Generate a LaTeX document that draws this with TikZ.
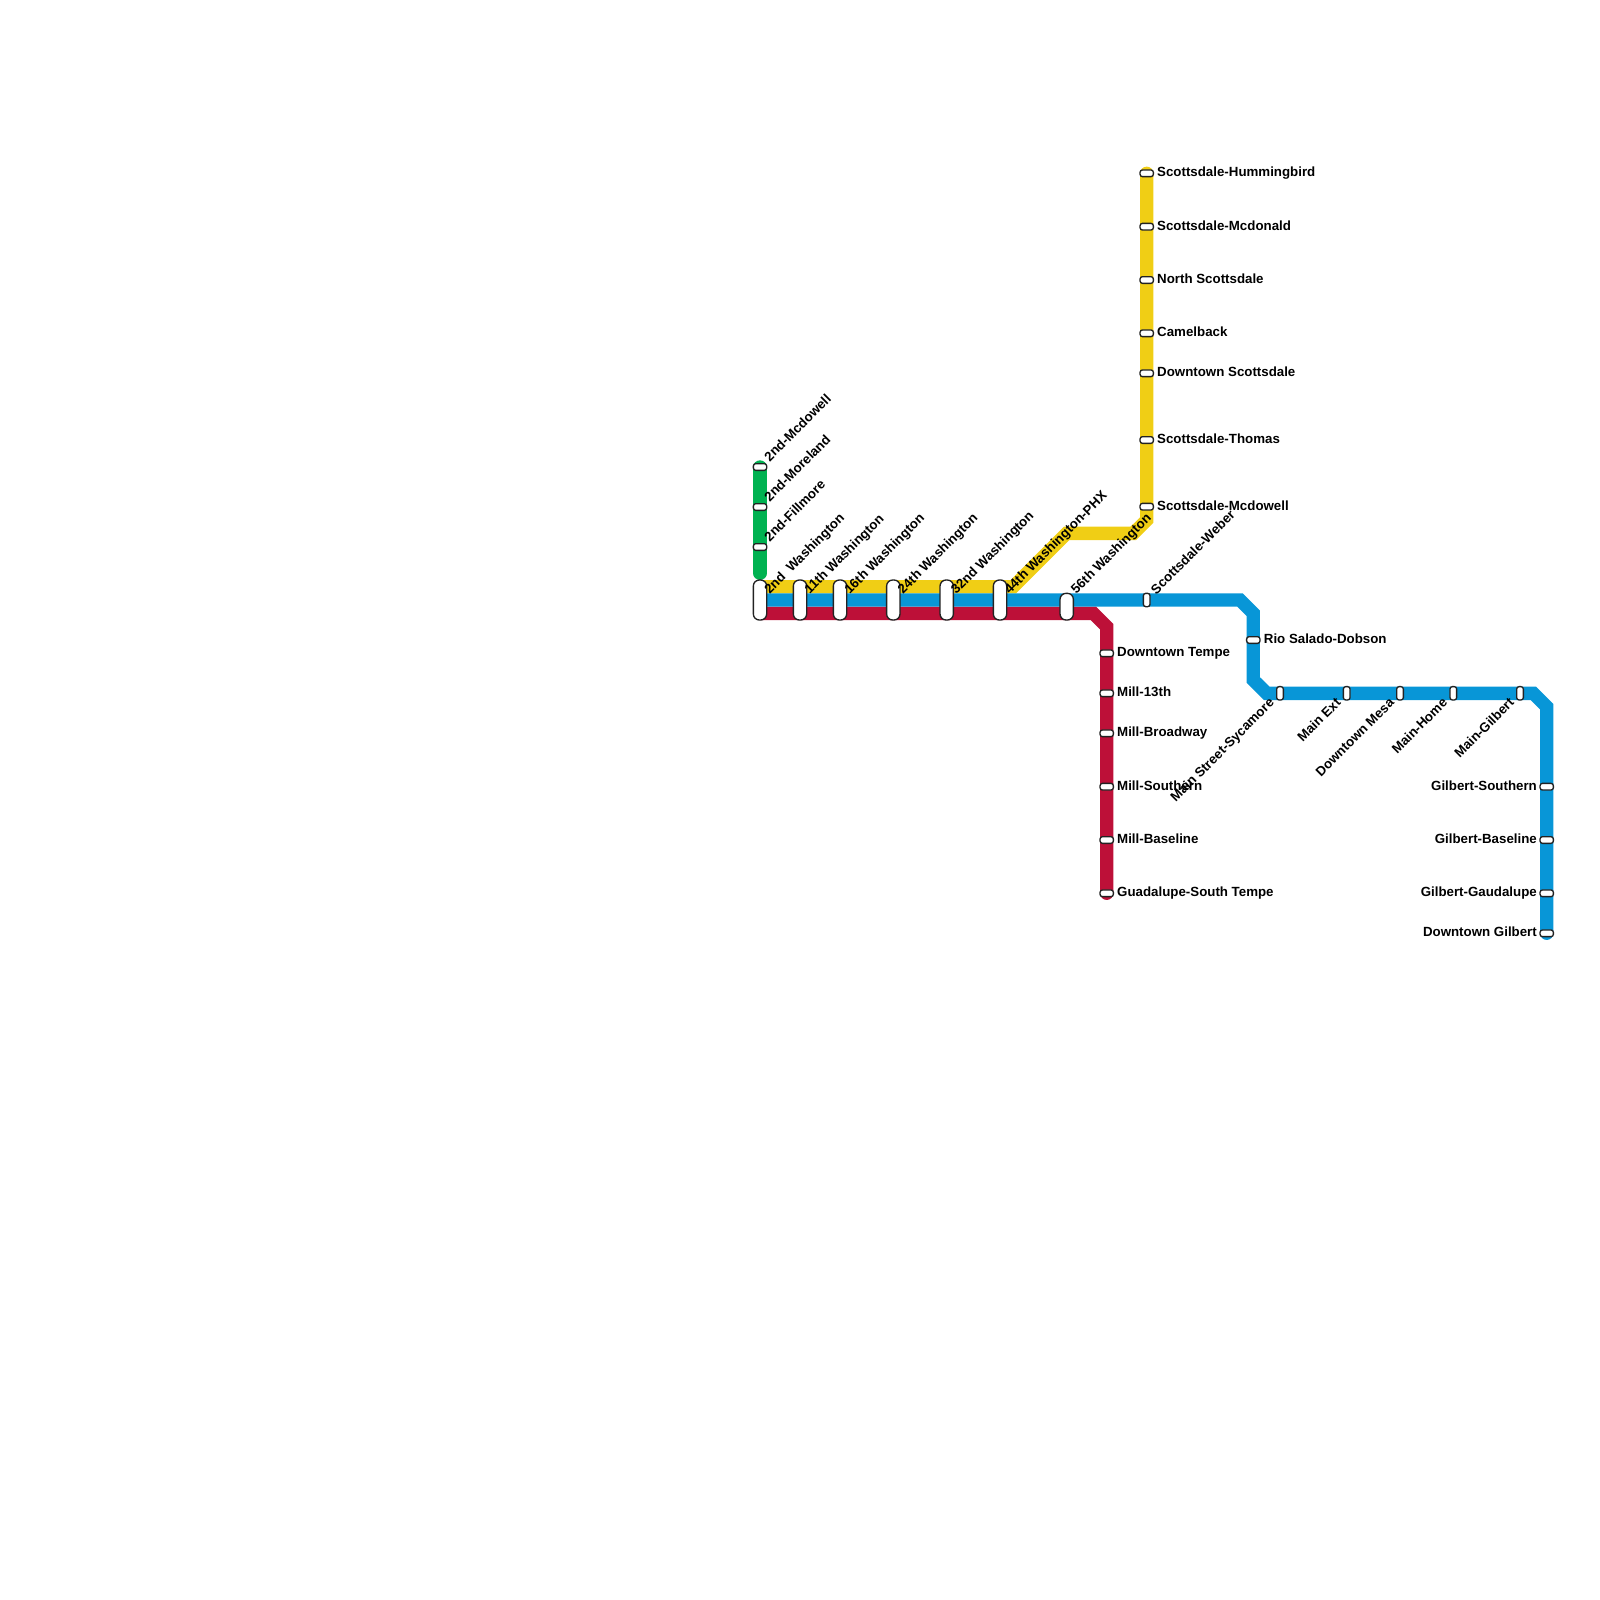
\documentclass[tikz,border=0pt]{standalone}
\usepackage{fontspec}
\setmainfont{Liberation Sans}
\usetikzlibrary{backgrounds}
\definecolor{lgreen}{HTML}{00B251}
\definecolor{lyellow}{HTML}{F0CE15}
\definecolor{lblue}{HTML}{0896D7}
\definecolor{lred}{HTML}{BD1038}
\definecolor{stroke}{HTML}{222222}
\tikzset{
  x=1pt,y=-1pt,
  metroline/.style={line width=13.33pt,line join=miter,line cap=butt},
  roundend/.style={metroline,line cap=round},
  bigpill/.style={draw=stroke,fill=white,line width=1.33pt,rectangle,rounded corners=6pt,minimum width=13.33pt,minimum height=40pt,inner sep=0pt},
  midpill/.style={bigpill,minimum height=26.67pt},
  hstop/.style={draw=stroke,fill=white,line width=1.33pt,rectangle,rounded corners=2.4pt,minimum width=13.33pt,minimum height=6.67pt,inner sep=0pt},
  vstop/.style={draw=stroke,fill=white,line width=1.33pt,rectangle,rounded corners=2.4pt,minimum width=6.67pt,minimum height=13.33pt,inner sep=0pt},
  lab/.style={font=\fontsize{13.3}{13.3}\selectfont\bfseries,text=black,inner sep=0pt},
  labR/.style={lab,anchor=base west,yshift=0.4pt},
  labL/.style={lab,anchor=base east,yshift=0.4pt},
  labUp/.style={lab,anchor=base west,rotate=45,xshift=-0.5pt,yshift=-0.5pt},
  labDn/.style={lab,anchor=base east,rotate=45,xshift=-1pt,yshift=1pt},
}
\begin{document}
\begin{tikzpicture}
\useasboundingbox (0,0) rectangle (1600,1600);
% stations
\node[hstop] (g1) at (760,467) {};
\node[hstop] (g2) at (760,507) {};
\node[hstop] (g3) at (760,547) {};
\node[bigpill] (w1) at (760,600) {};
\node[bigpill] (w2) at (800,600) {};
\node[bigpill] (w3) at (840,600) {};
\node[bigpill] (w4) at (893.3,600) {};
\node[bigpill] (w5) at (946.7,600) {};
\node[bigpill] (w6) at (1000,600) {};
\node[midpill] (w7) at (1066.7,606.67) {};
\node[hstop] (y1) at (1146.7,173.3) {};
\node[hstop] (y2) at (1146.7,226.7) {};
\node[hstop] (y3) at (1146.7,280) {};
\node[hstop] (y4) at (1146.7,333.3) {};
\node[hstop] (y5) at (1146.7,373.3) {};
\node[hstop] (y6) at (1146.7,440) {};
\node[hstop] (y7) at (1146.7,506.7) {};
\node[hstop] (r1) at (1106.7,653.3) {};
\node[hstop] (r2) at (1106.7,693.3) {};
\node[hstop] (r3) at (1106.7,733.3) {};
\node[hstop] (r4) at (1106.7,786.7) {};
\node[hstop] (r5) at (1106.7,840) {};
\node[hstop] (r6) at (1106.7,893.3) {};
\node[vstop] (b1) at (1146.7,600) {};
\node[hstop] (b2) at (1253.3,640) {};
\node[vstop] (b3) at (1280,693.3) {};
\node[vstop] (b4) at (1346.7,693.3) {};
\node[vstop] (b5) at (1400,693.3) {};
\node[vstop] (b6) at (1453.3,693.3) {};
\node[vstop] (b7) at (1520,693.3) {};
\node[hstop] (b8) at (1546.7,786.7) {};
\node[hstop] (b9) at (1546.7,840) {};
\node[hstop] (b10) at (1546.7,893.3) {};
\node[hstop] (b11) at (1546.7,933.3) {};
% bends and line ends
\coordinate (gend) at (760,573.3);
\coordinate (ys) at (760,586.67);
\coordinate (yb1) at (1013.3,586.67);
\coordinate (yb2) at (1066.7,533.33);
\coordinate (yb3) at (1133.3,533.33);
\coordinate (yb4) at (1146.7,520);
\coordinate (bs) at (760,600);
\coordinate (bb1) at (1240,600);
\coordinate (bb2) at (1253.3,613.33);
\coordinate (bb3) at (1253.3,680);
\coordinate (bb4) at (1266.7,693.33);
\coordinate (bb5) at (1533.3,693.33);
\coordinate (bb6) at (1546.7,706.67);
\coordinate (rs) at (760,613.33);
\coordinate (rb1) at (1093.3,613.33);
\coordinate (rb2) at (1106.7,626.67);
\begin{pgfonlayer}{background}
\draw[roundend,lgreen] (g1.center) -- (gend);
\draw[metroline,lyellow] (ys) -- (yb1) -- (yb2) -- (yb3) -- (yb4) -- (y1.center);
\fill[lyellow] (y1.center) circle[radius=6.67];
\draw[metroline,lred] (rs) -- (rb1) -- (rb2) -- (r6.center);
\fill[lred] (r6.center) circle[radius=6.67];
\draw[metroline,lblue] (bs) -- (bb1) -- (bb2) -- (bb3) -- (bb4) -- (bb5) -- (bb6) -- (b11.center);
\fill[lblue] (b11.center) circle[radius=6.67];
\end{pgfonlayer}
% labels
\node[labUp] (lg1) at (769.6,461.6) {2nd-Mcdowell};
\node[labUp] (lg2) at (769.6,501.6) {2nd-Moreland};
\node[labUp] (lg3) at (769.6,541.6) {2nd-Fillmore};
\node[labUp] (lw1) at (769.6,594) {2nd\ \ Washington};
\node[labUp] (lw2) at (809.6,594) {11th Washington};
\node[labUp] (lw3) at (849.6,594) {16th Washington};
\node[labUp] (lw4) at (902.9,594) {24th Washington};
\node[labUp] (lw5) at (956.3,594) {32nd Washington};
\node[labUp] (lw6) at (1009.6,594) {44th Washington-PHX};
\node[labUp] (lw7) at (1076.3,594) {56th Washington};
\node[labUp] (lb1) at (1156.3,594.6) {Scottsdale-Weber};
\node[labR] (ly1) at (1157,177) {Scottsdale-Hummingbird};
\node[labR] (ly2) at (1157,230.4) {Scottsdale-Mcdonald};
\node[labR] (ly3) at (1157,283.7) {North Scottsdale};
\node[labR] (ly4) at (1157,337) {Camelback};
\node[labR] (ly5) at (1157,377) {Downtown Scottsdale};
\node[labR] (ly6) at (1157,443.7) {Scottsdale-Thomas};
\node[labR] (ly7) at (1157,510.4) {Scottsdale-Mcdowell};
\node[labR] (lr1) at (1117,657) {Downtown Tempe};
\node[labR] (lr2) at (1117,697) {Mill-13th};
\node[labR] (lr3) at (1117,737) {Mill-Broadway};
\node[labR] (lr4) at (1117,790.4) {Mill-Southern};
\node[labR] (lr5) at (1117,843.7) {Mill-Baseline};
\node[labR] (lr6) at (1117,897) {Guadalupe-South Tempe};
\node[labR] (lb2) at (1263.7,643.7) {Rio Salado-Dobson};
\node[labDn] (lb3) at (1276.3,703.6) {Main Street-Sycamore};
\node[labDn] (lb4) at (1343,703.6) {Main Ext};
\node[labDn] (lb5) at (1396.3,703.6) {Downtown Mesa};
\node[labDn] (lb6) at (1449.6,703.6) {Main-Home};
\node[labDn] (lb7) at (1516.3,703.6) {Main-Gilbert};
\node[labL] (lb8) at (1537,790.4) {Gilbert-Southern};
\node[labL] (lb9) at (1537,843.7) {Gilbert-Baseline};
\node[labL] (lb10) at (1537,897) {Gilbert-Gaudalupe};
\node[labL] (lb11) at (1537,937) {Downtown Gilbert};
\end{tikzpicture}
\end{document}
